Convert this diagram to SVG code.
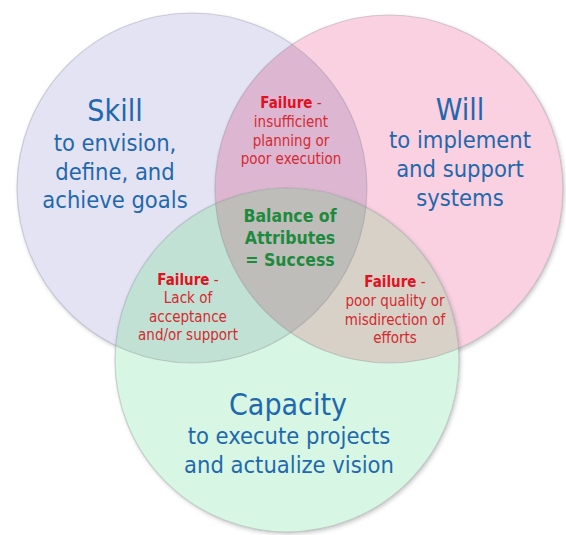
<svg xmlns="http://www.w3.org/2000/svg" width="566" height="535" viewBox="0 0 566 535">
<style>
.main{font-family:"DejaVu Sans Condensed","DejaVu Sans",sans-serif;fill:#1f68ad;text-anchor:middle}
.t{font-size:30px}
.s{font-size:23.5px}
.f{font-family:"DejaVu Sans Condensed","DejaVu Sans",sans-serif;font-size:15px;fill:#d42a30;text-anchor:middle}
.fb{font-weight:bold;fill:#e3101e}
.g{font-family:"DejaVu Sans Condensed","DejaVu Sans",sans-serif;font-size:17.5px;font-weight:bold;fill:#1d8a3e;text-anchor:middle}
.edge{fill:none;stroke:#8a8a96;stroke-opacity:0.35;stroke-width:1.2}
</style>
<defs>
<clipPath id="cS"><circle cx="192" cy="188" r="175"/></clipPath>
<clipPath id="cW"><circle cx="389" cy="189" r="174"/></clipPath>
<filter id="sh" x="-10%" y="-10%" width="120%" height="120%"><feDropShadow dx="1.5" dy="2" stdDeviation="2" flood-color="#000" flood-opacity="0.22"/></filter>
</defs>
<rect width="566" height="535" fill="#ffffff"/>
<g id="connectors"></g>
<g id="skill">
<circle cx="192" cy="188" r="175" fill="#e4e3f4" filter="url(#sh)"/>
</g>
<g id="will">
<circle cx="389" cy="189" r="174" fill="#f9d1e1" filter="url(#sh)"/>
<circle cx="389" cy="189" r="174" fill="#ddb6d2" clip-path="url(#cS)"/>
</g>
<g id="capacity">
<circle cx="287" cy="360" r="172" fill="#d7f6e3" filter="url(#sh)"/>
<circle cx="287" cy="360" r="172" fill="#c0e1d4" clip-path="url(#cS)"/>
<circle cx="287" cy="360" r="172" fill="#d7d1c7" clip-path="url(#cW)"/>
<g clip-path="url(#cW)"><circle cx="287" cy="360" r="172" fill="#bfbdba" clip-path="url(#cS)"/></g>
</g>
<g id="edges">
<circle class="edge" cx="192" cy="188" r="175"/>
<circle class="edge" cx="389" cy="189" r="174"/>
<circle class="edge" cx="287" cy="360" r="172"/>
</g>
<g id="skill-label" class="main">
<text class="t" x="115" y="121">Skill</text>
<text class="s" x="115" y="151">to envision,</text>
<text class="s" x="115" y="180">define, and</text>
<text class="s" x="115" y="208">achieve goals</text>
</g>
<g id="will-label" class="main">
<text class="t" x="460" y="120">Will</text>
<text class="s" x="460" y="148">to implement</text>
<text class="s" x="460" y="177">and support</text>
<text class="s" x="460" y="206">systems</text>
</g>
<g id="capacity-label" class="main">
<text class="t" x="288" y="415">Capacity</text>
<text class="s" x="289" y="444">to execute projects</text>
<text class="s" x="289" y="473">and actualize vision</text>
</g>
<g id="failure-top" class="f">
<text x="291" y="108"><tspan class="fb">Failure</tspan> -</text>
<text x="291" y="127">insufficient</text>
<text x="291" y="146">planning or</text>
<text x="291" y="164">poor execution</text>
</g>
<g id="failure-left" class="f">
<text x="188" y="285"><tspan class="fb">Failure</tspan> -</text>
<text x="188" y="303">Lack of</text>
<text x="188" y="322">acceptance</text>
<text x="188" y="340">and/or support</text>
</g>
<g id="failure-right" class="f">
<text x="395" y="287"><tspan class="fb">Failure</tspan> -</text>
<text x="395" y="306">poor quality or</text>
<text x="395" y="325">misdirection of</text>
<text x="395" y="343">efforts</text>
</g>
<g id="balance" class="g">
<text x="290" y="222">Balance of</text>
<text x="290" y="244">Attributes</text>
<text x="290" y="266">= Success</text>
</g>
</svg>
